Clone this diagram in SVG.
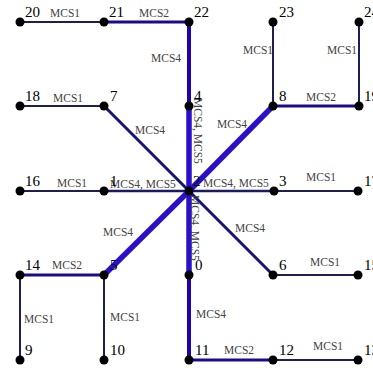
<svg xmlns="http://www.w3.org/2000/svg" width="373" height="368" viewBox="0 0 373 368">
<style>
.e1{stroke:#1e1e55;stroke-width:2;fill:none}
.e2{stroke:#1a0a8c;stroke-width:3;fill:none}
.e3{stroke:#15157a;stroke-width:3;fill:none}
.e4{stroke:#2200aa;stroke-width:4;fill:none}
.e5{stroke:#2a10c8;stroke-width:5.5;fill:none}
.e6{stroke:#1a1a60;stroke-width:2.5;fill:none}
.el{font-family:"Liberation Serif",serif;font-size:11.5px;fill:#444}
.nl{font-family:"Liberation Serif",serif;font-size:15px;fill:#000}
circle{fill:#000}
</style>
<rect width="373" height="368" fill="#fff"/>
<g id="connectors">
<line class="e1" x1="20" y1="22" x2="104" y2="22"/>
<line class="e2" x1="104" y1="22" x2="189" y2="22"/>
<line class="e4" x1="189" y1="22" x2="189" y2="106"/>
<line class="e5" x1="189" y1="106" x2="189" y2="191"/>
<line class="e1" x1="20" y1="106" x2="104" y2="106"/>
<line class="e3" x1="104" y1="106" x2="189" y2="191"/>
<line class="e1" x1="273" y1="22" x2="273" y2="106"/>
<line class="e1" x1="359" y1="22" x2="359" y2="106"/>
<line class="e2" x1="273" y1="106" x2="359" y2="106"/>
<line class="e5" x1="273" y1="106" x2="189" y2="191"/>
<line class="e1" x1="20" y1="191" x2="104" y2="191"/>
<line class="e6" x1="104" y1="191" x2="189" y2="191"/>
<line class="e6" x1="189" y1="191" x2="274" y2="191"/>
<line class="e1" x1="274" y1="191" x2="358" y2="191"/>
<line class="e5" x1="189" y1="191" x2="104" y2="275"/>
<line class="e3" x1="189" y1="191" x2="273" y2="275"/>
<line class="e5" x1="189" y1="191" x2="189" y2="275"/>
<line class="e4" x1="189" y1="275" x2="189" y2="360"/>
<line class="e2" x1="20" y1="275" x2="104" y2="275"/>
<line class="e1" x1="20" y1="275" x2="20" y2="360"/>
<line class="e1" x1="104" y1="275" x2="104" y2="360"/>
<line class="e1" x1="273" y1="275" x2="358" y2="275"/>
<line class="e2" x1="189" y1="360" x2="273" y2="360"/>
<line class="e1" x1="273" y1="360" x2="358" y2="360"/>
<text class="el" x="50" y="17">MCS1</text>
<text class="el" x="139" y="17">MCS2</text>
<text class="el" x="151" y="62">MCS4</text>
<text class="el" x="53" y="102">MCS1</text>
<text class="el" x="135" y="134">MCS4</text>
<text class="el" transform="translate(194,98) rotate(90)">MCS4, MCS5</text>
<text class="el" x="243" y="54">MCS1</text>
<text class="el" x="327" y="54">MCS1</text>
<text class="el" x="306" y="101">MCS2</text>
<text class="el" x="217" y="128">MCS4</text>
<text class="el" x="57" y="187">MCS1</text>
<text class="el" x="110" y="188">MCS4, MCS5</text>
<text class="el" x="203" y="187">MCS4, MCS5</text>
<text class="el" x="306" y="181">MCS1</text>
<text class="el" x="103" y="236">MCS4</text>
<text class="el" x="235" y="232">MCS4</text>
<text class="el" transform="translate(191,195) rotate(90)">MCS4, MCS5</text>
<text class="el" x="52" y="269">MCS2</text>
<text class="el" x="24" y="323">MCS1</text>
<text class="el" x="110" y="321">MCS1</text>
<text class="el" x="310" y="266">MCS1</text>
<text class="el" x="196" y="318">MCS4</text>
<text class="el" x="224" y="354">MCS2</text>
<text class="el" x="313" y="350">MCS1</text>
</g>
<g id="n20"><circle cx="20" cy="22" r="4.5"/><text class="nl" x="25" y="17">20</text></g>
<g id="n21"><circle cx="104" cy="22" r="4.5"/><text class="nl" x="109" y="17">21</text></g>
<g id="n22"><circle cx="189" cy="22" r="4.5"/><text class="nl" x="194" y="17">22</text></g>
<g id="n23"><circle cx="273" cy="22" r="4.5"/><text class="nl" x="279" y="17">23</text></g>
<g id="n24"><circle cx="359" cy="22" r="4.5"/><text class="nl" x="364" y="17">24</text></g>
<g id="n18"><circle cx="20" cy="106" r="4.5"/><text class="nl" x="25" y="101">18</text></g>
<g id="n7"><circle cx="104" cy="106" r="4.5"/><text class="nl" x="110" y="101">7</text></g>
<g id="n4"><circle cx="189" cy="106" r="4.5"/><text class="nl" x="194" y="101">4</text></g>
<g id="n8"><circle cx="273" cy="106" r="4.5"/><text class="nl" x="279" y="101">8</text></g>
<g id="n19"><circle cx="359" cy="106" r="4.5"/><text class="nl" x="364" y="101">19</text></g>
<g id="n16"><circle cx="20" cy="191" r="4.5"/><text class="nl" x="25" y="186">16</text></g>
<g id="n1"><circle cx="104" cy="191" r="4.5"/><text class="nl" x="110" y="186">1</text></g>
<g id="n2"><circle cx="189" cy="191" r="4.5"/><text class="nl" x="193" y="186">2</text></g>
<g id="n3"><circle cx="274" cy="191" r="4.5"/><text class="nl" x="279" y="186">3</text></g>
<g id="n17"><circle cx="358" cy="191" r="4.5"/><text class="nl" x="364" y="186">17</text></g>
<g id="n14"><circle cx="20" cy="275" r="4.5"/><text class="nl" x="25" y="270">14</text></g>
<g id="n5"><circle cx="104" cy="275" r="4.5"/><text class="nl" x="110" y="270">5</text></g>
<g id="n0"><circle cx="189" cy="275" r="4.5"/><text class="nl" x="195" y="270">0</text></g>
<g id="n6"><circle cx="273" cy="275" r="4.5"/><text class="nl" x="279" y="270">6</text></g>
<g id="n15"><circle cx="358" cy="275" r="4.5"/><text class="nl" x="364" y="270">15</text></g>
<g id="n9"><circle cx="20" cy="360" r="4.5"/><text class="nl" x="25" y="355">9</text></g>
<g id="n10"><circle cx="104" cy="360" r="4.5"/><text class="nl" x="110" y="355">10</text></g>
<g id="n11"><circle cx="189" cy="360" r="4.5"/><text class="nl" x="195" y="355">11</text></g>
<g id="n12"><circle cx="273" cy="360" r="4.5"/><text class="nl" x="279" y="355">12</text></g>
<g id="n13"><circle cx="358" cy="360" r="4.5"/><text class="nl" x="364" y="355">13</text></g>
</svg>
